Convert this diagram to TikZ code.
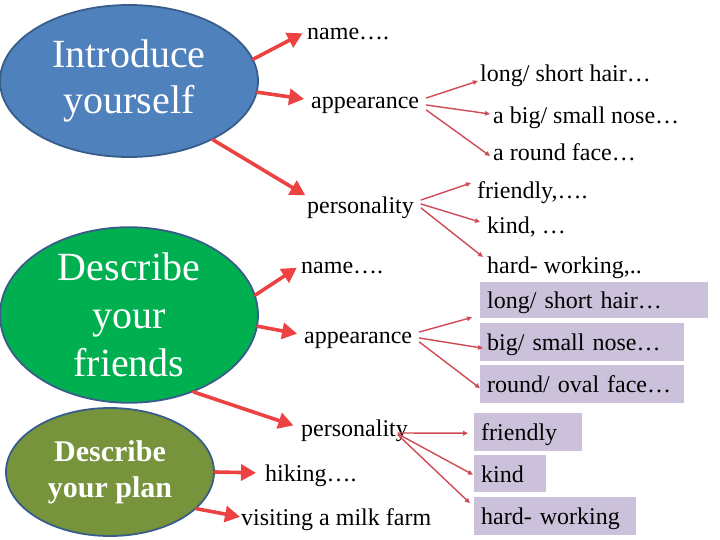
\documentclass[tikz,border=0pt]{standalone}
\usepackage{fontspec}
\setmainfont{Liberation Serif}
\usetikzlibrary{arrows.meta,shapes.geometric}
\definecolor{ovalblue}{HTML}{4F81BD}
\definecolor{ovalgreen}{HTML}{00B050}
\definecolor{ovalolive}{HTML}{77933C}
\definecolor{ovalline}{HTML}{385D8A}
\definecolor{arrowred}{HTML}{EC4242}
\definecolor{thinred}{HTML}{CF4A55}
\definecolor{tagfill}{HTML}{CCC1DA}
\begin{document}
\begin{tikzpicture}[line cap=round,line join=round,x=1pt,y=-1pt,
	bigarrow/.style={draw=arrowred,line width=3.6pt,-{Triangle[length=15pt,width=16pt]}},
	smallarrow/.style={draw=thinred,line width=1.4pt,-{Triangle[length=5pt,width=4.5pt]}},
	topic/.style={ellipse,draw=ovalline,line width=1.8pt,text=white,align=center,inner sep=0pt},
	item/.style={font=\fontsize{24}{28}\selectfont,inner sep=0pt,text height=20pt,text depth=3pt,anchor=west},
	tag/.style={item,fill=tagfill,anchor=north west,inner xsep=7pt,inner ysep=0pt,align=left,text width=#1}]
	\useasboundingbox (0,0) rectangle (720,540);
	% ovals
	\node[topic,fill=ovalblue,minimum width=258pt,minimum height=152pt,font=\fontsize{40}{46}\selectfont] (intro) at (129,81) {Introduce\\yourself};
	\node[topic,fill=ovalgreen,minimum width=258pt,minimum height=150pt,font=\fontsize{40}{48}\selectfont] (friends) at (129,315) {Describe\\your\\friends};
	\node[topic,fill=ovalolive,minimum width=208pt,minimum height=128pt,font=\bfseries\fontsize{30}{36}\selectfont] (plan) at (110,472) {Describe\\your plan};
	% first column
	\node[item] (nameA) at (307,31) {name….};
	\node[item] (appA) at (311,100) {appearance};
	\node[item] (persA) at (307,205) {personality};
	\node[item] (nameB) at (301,265) {name….};
	\node[item] (appB) at (304,335) {appearance};
	\node[item] (persB) at (301,428) {personality};
	\node[item] (hiking) at (265,473) {hiking….};
	\node[item] (visit) at (241,517) {visiting a milk farm};
	% second column
	\node[item] (longA) at (480,73) {long/ short hair…};
	\node[item] (noseA) at (493,115) {a big/ small nose…};
	\node[item] (faceA) at (493,152) {a round face…};
	\node[item] (friendlyA) at (477,190) {friendly,….};
	\node[item] (kindA) at (487,225) {kind, …};
	\node[item] (hardA) at (487,265) {hard- working,..};
	\node[tag=214pt,minimum height=36pt] (longB) at (480,282) {long/ short hair…};
	\node[tag=190pt,minimum height=38pt] (noseB) at (480,323) {big/ small nose…};
	\node[tag=190pt,minimum height=38pt] (faceB) at (480,365) {round/ oval face…};
	\node[tag=94pt,minimum height=38pt] (friendlyB) at (474,413) {friendly};
	\node[tag=58pt,minimum height=37pt] (kindB) at (474,455) {kind};
	\node[tag=148pt,minimum height=38pt] (hardB) at (474,497) {hard- working};
	% thick arrows
	\draw[bigarrow,shorten >=5pt] (intro.10) -- (nameA.west);
	\draw[bigarrow,shorten >=7pt] (intro.-5) -- (appA.west);
	\draw[bigarrow,shorten >=2pt] (intro.-35) -- ([yshift=-3pt]persA.north west);
	\draw[bigarrow,shorten >=5pt] (friends.9) -- (nameB.west);
	\draw[bigarrow,shorten >=7pt] (friends.-5) -- (appB.west);
	\draw[bigarrow,shorten >=8pt] (friends.-50) -- (persB.west);
	\draw[bigarrow,shorten >=9pt] (plan.0) -- (hiking.west);
	\draw[bigarrow,shorten >=1pt] (plan.-23) -- (visit.west);
	% thin arrows
	\draw[smallarrow] ([xshift=7pt,yshift=2pt]appA.east) -- ([xshift=-2pt,yshift=-8pt]longA.west);
	\draw[smallarrow] ([xshift=7pt,yshift=-5pt]appA.east) -- ([xshift=-3pt,yshift=1pt]noseA.west);
	\draw[smallarrow] ([xshift=7pt,yshift=-10pt]appA.east) -- ([xshift=-3pt,yshift=-4pt]faceA.west);
	\draw[smallarrow] ([xshift=7pt,yshift=5pt]persA.east) -- ([xshift=-6pt,yshift=7pt]friendlyA.west);
	\draw[smallarrow] ([xshift=7pt,yshift=1pt]persA.east) -- ([xshift=-7pt,yshift=3pt]kindA.west);
	\draw[smallarrow] ([xshift=7pt,yshift=-3pt]persA.east) -- ([xshift=-4pt,yshift=8pt]hardA.west);
	\draw[smallarrow] ([xshift=7pt,yshift=3pt]appB.east) -- ([xshift=-8pt,yshift=1pt]longB.south west);
	\draw[smallarrow] ([xshift=7pt,yshift=-3pt]appB.east) -- ([xshift=3pt,yshift=-6pt]noseB.west);
	\draw[smallarrow] ([xshift=7pt,yshift=-7pt]appB.east) -- ([yshift=-4pt]faceB.west);
	\draw[smallarrow] ([xshift=-10pt,yshift=-5pt]persB.east) -- ([xshift=-6pt,yshift=-1pt]friendlyB.west);
	\draw[smallarrow] ([xshift=-10pt,yshift=-6pt]persB.east) -- ([xshift=-1pt,yshift=-1pt]kindB.west);
	\draw[smallarrow] ([xshift=-10pt,yshift=-7pt]persB.east) -- ([xshift=-4pt,yshift=13pt]hardB.west);
\end{tikzpicture}
\end{document}
